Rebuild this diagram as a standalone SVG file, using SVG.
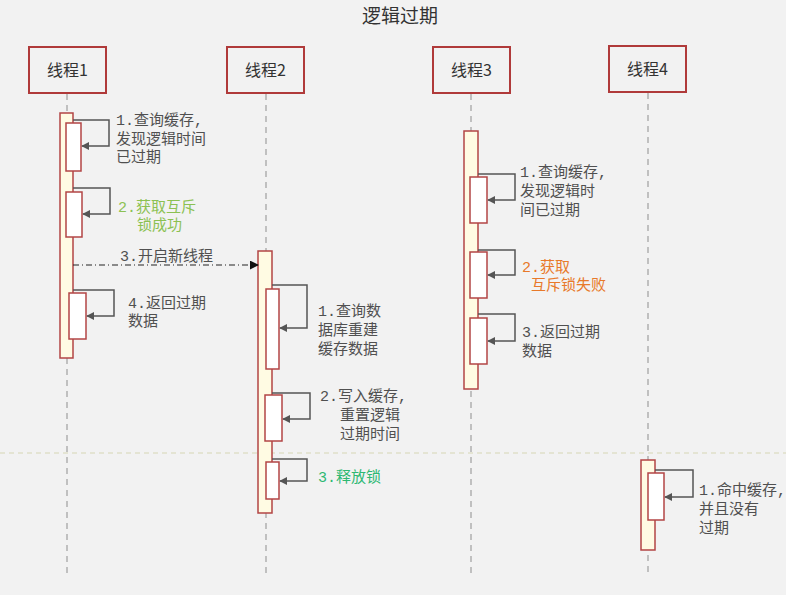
<svg xmlns="http://www.w3.org/2000/svg" width="786" height="595" viewBox="0 0 786 595">
<style>
.hd{fill:#f2f2f2;stroke:#b03a3a;stroke-width:2}
.ht{font-family:"Noto Sans CJK SC",sans-serif;font-size:16px;fill:#333;text-anchor:middle}
.ll{stroke:#b0b0b0;stroke-width:1.5;stroke-dasharray:6 5;fill:none}
.act{fill:#fffbe3;stroke:#b34545;stroke-width:1.5}
.sub{fill:#ffffff;stroke:#b34545;stroke-width:1.5}
.sa{fill:none;stroke:#555;stroke-width:1.5;marker-end:url(#ah)}
.t{font-family:"Liberation Mono","Noto Sans CJK SC",monospace;font-size:15px;fill:#505050}
.g{fill:#8cc152}
.g2{fill:#2eb872}
.o{fill:#e8792a}
</style>
<defs>
<marker id="ah" viewBox="0 0 10 10" refX="9" refY="5" markerWidth="8" markerHeight="8" markerUnits="userSpaceOnUse" orient="auto"><path d="M0,0 L10,5 L0,10 z" fill="#555"/></marker>
<marker id="ahb" viewBox="0 0 10 10" refX="9" refY="5" markerWidth="9" markerHeight="9" markerUnits="userSpaceOnUse" orient="auto"><path d="M0,0 L10,5 L0,10 z" fill="#111"/></marker>
</defs>
<rect x="0" y="0" width="786" height="595" fill="#f2f2f2"/>
<text x="400" y="23" font-family="'Noto Sans CJK SC',sans-serif" font-size="19" fill="#333" text-anchor="middle">逻辑过期</text>
<line x1="0" y1="453" x2="786" y2="453" stroke="#d6d6b4" stroke-width="1" stroke-dasharray="5 4"/>

<g id="lifelines">
<line class="ll" x1="67" y1="94" x2="67" y2="575"/>
<line class="ll" x1="266" y1="94" x2="266" y2="575"/>
<line class="ll" x1="471" y1="94" x2="471" y2="575"/>
<line class="ll" x1="648" y1="93" x2="648" y2="575"/>
</g>

<g id="thread1">
<rect class="hd" x="29" y="47" width="77" height="46"/>
<text class="ht" x="67.5" y="76">线程1</text>
<rect class="act" x="60" y="113" width="13" height="245"/>
<rect class="sub" x="66" y="123" width="15" height="48"/>
<rect class="sub" x="66" y="192" width="16" height="45"/>
<rect class="sub" x="69" y="293" width="17" height="46"/>
</g>

<g id="thread2">
<rect class="hd" x="227" y="47" width="77" height="46"/>
<text class="ht" x="265.5" y="76">线程2</text>
<rect class="act" x="258" y="251" width="14" height="262"/>
<rect class="sub" x="266" y="289" width="13" height="80"/>
<rect class="sub" x="265" y="395" width="17" height="46"/>
<rect class="sub" x="266" y="462" width="13" height="37"/>
</g>

<g id="thread3">
<rect class="hd" x="433" y="47" width="77" height="46"/>
<text class="ht" x="471.5" y="76">线程3</text>
<rect class="act" x="464" y="131" width="14" height="258"/>
<rect class="sub" x="470" y="177" width="17" height="46"/>
<rect class="sub" x="470" y="252" width="17" height="46"/>
<rect class="sub" x="470" y="318" width="17" height="46"/>
</g>

<g id="thread4">
<rect class="hd" x="609" y="46" width="77" height="46"/>
<text class="ht" x="647.5" y="75">线程4</text>
<rect class="act" x="641" y="460" width="14" height="90"/>
<rect class="sub" x="648" y="473" width="16" height="47"/>
</g>

<g id="connectors">
<path class="sa" d="M73,120 H109 V146 H82"/>
<path class="sa" d="M73,188 H110 V214 H83"/>
<line x1="73" y1="265" x2="258" y2="265" stroke="#222" stroke-width="1" stroke-dasharray="6 3 1 3" marker-end="url(#ahb)"/>
<path class="sa" d="M73,290 H114 V316 H87"/>
<path class="sa" d="M272,285 H307 V328 H280"/>
<path class="sa" d="M272,393 H310 V419 H283"/>
<path class="sa" d="M272,459 H307 V481 H280"/>
<path class="sa" d="M478,174 H515 V200 H488"/>
<path class="sa" d="M478,250 H515 V275 H488"/>
<path class="sa" d="M478,314 H515 V341 H488"/>
<path class="sa" d="M655,470 H693 V497 H665"/>
</g>

<g id="labels">
<text class="t" x="116" y="125">1.查询缓存,</text>
<text class="t" x="116" y="143.5">发现逻辑时间</text>
<text class="t" x="116" y="162">已过期</text>
<text class="t g" x="118" y="212">2.获取互斥</text>
<text class="t g" x="137" y="230">锁成功</text>
<text class="t" x="120" y="261">3.开启新线程</text>
<text class="t" x="128" y="308">4.返回过期</text>
<text class="t" x="128" y="326">数据</text>
<text class="t" x="318" y="316">1.查询数</text>
<text class="t" x="318" y="335">据库重建</text>
<text class="t" x="318" y="354">缓存数据</text>
<text class="t" x="320" y="401">2.写入缓存,</text>
<text class="t" x="340" y="420">重置逻辑</text>
<text class="t" x="340" y="439">过期时间</text>
<text class="t g2" x="318" y="482">3.释放锁</text>
<text class="t" x="520" y="177">1.查询缓存,</text>
<text class="t" x="520" y="196">发现逻辑时</text>
<text class="t" x="520" y="215">间已过期</text>
<text class="t o" x="522" y="272">2.获取</text>
<text class="t o" x="531" y="290">互斥锁失败</text>
<text class="t" x="522" y="337">3.返回过期</text>
<text class="t" x="522" y="356">数据</text>
<text class="t" x="699" y="495">1.命中缓存,</text>
<text class="t" x="699" y="514">并且没有</text>
<text class="t" x="699" y="533">过期</text>
</g>
</svg>
